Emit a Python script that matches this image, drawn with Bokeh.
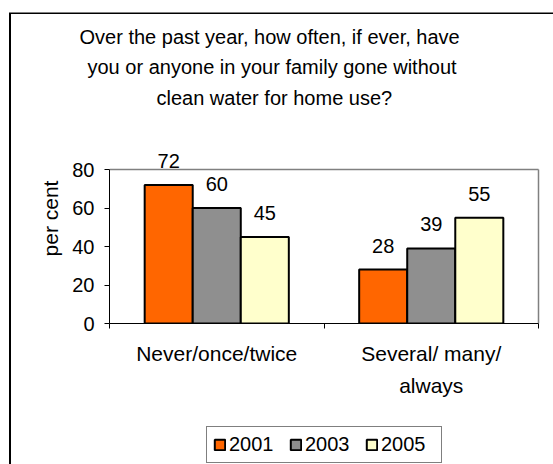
from bokeh.plotting import figure
from bokeh.layouts import column
from bokeh.models import (Range1d, FixedTicker, ColumnDataSource, LabelSet, Title,
                          Legend, LegendItem)
from bokeh.core.properties import value
from bokeh.embed import file_html
from bokeh.resources import INLINE

FONT = "Liberation Sans"

# ---- data ----
categories = ["Never/once/twice", "Several/ many/\nalways"]
years = ["2001", "2003", "2005"]
values_2001 = [72, 28]
values_2003 = [60, 39]
values_2005 = [45, 55]
y_ticks = [0, 20, 40, 60, 80]
title_lines = [
    "Over the past year, how often, if ever, have",
    "you or anyone in your family gone without",
    "clean water for home use?",
]
y_label = "per cent"

series = [values_2001, values_2003, values_2005]
colors = ["#FF6600", "#8F8F8F", "#FFFFCC"]

y_max = 80
ncat = len(categories)
# frame taller than the value axis so the value labels above bars are not clipped
y_top = y_max * 210 / 154.0

MAIN_H = 420
p = figure(width=553, height=MAIN_H,
           x_range=Range1d(0, ncat + 3 / 214.5), y_range=Range1d(0, y_top),
           output_backend="svg", toolbar_location=None,
           min_border_left=109, min_border_right=12,
           min_border_top=113, min_border_bottom=MAIN_H - 323,
           background_fill_color="white", border_fill_color=None,
           outline_line_color=None,
           styles={"box-shadow": "inset 9px 0 0 0 #ffffff, inset 0 12.5px 0 0 #ffffff, "
                                 "inset 11px 0 0 0 #000000, inset 0 14px 0 0 #000000"})

p.xgrid.grid_line_color = None
p.ygrid.grid_line_color = None

# plot-area border (top and right, gray)
p.segment(x0=[0, ncat], y0=[y_max, 0], x1=[ncat, ncat], y1=[y_max, y_max],
          line_color="#808080", line_width=1.5)

bar_w = 0.224
for j, (yr, vals, col) in enumerate(zip(years, series, colors)):
    xs = [i + 0.5 + (j - 1) * bar_w for i in range(ncat)]
    src = ColumnDataSource(dict(x=xs, top=vals, label=[str(v) for v in vals]))
    p.vbar(x="x", top="top", bottom=0, width=bar_w, source=src,
           fill_color=col, line_color="black", line_width=2)
    p.add_layout(LabelSet(x="x", y="top", text="label", source=src,
                          y_offset=17, text_align="center",
                          text_baseline="alphabetic",
                          text_font=value(FONT), text_font_size=value("20px"),
                          text_color="black"))

# y axis
p.yaxis.ticker = FixedTicker(ticks=y_ticks)
p.yaxis.bounds = (0, y_max)
p.yaxis.axis_label = y_label
p.yaxis.axis_label_text_font = FONT
p.yaxis.axis_label_text_font_size = "21px"
p.yaxis.axis_label_text_font_style = "normal"
p.yaxis.axis_label_text_color = "black"
p.yaxis.axis_label_standoff = 7
p.yaxis.major_label_text_font = FONT
p.yaxis.major_label_text_font_size = "20px"
p.yaxis.major_label_text_color = "black"
p.yaxis.major_label_standoff = 10
p.yaxis.major_tick_out = 5
p.yaxis.major_tick_in = 0
p.yaxis.minor_tick_line_color = None
p.yaxis.axis_line_color = "black"
p.yaxis.major_tick_line_color = "black"

# x axis: labels at category centres, tick marks at category boundaries
p.xaxis.ticker = FixedTicker(ticks=[i + 0.5 for i in range(ncat)],
                             minor_ticks=list(range(ncat + 1)))
p.xaxis.bounds = (0, ncat)
p.xaxis.major_label_overrides = {i + 0.5: c for i, c in enumerate(categories)}
p.xaxis.major_label_text_font = FONT
p.xaxis.major_label_text_font_size = "21px"
p.xaxis.major_label_text_color = "black"
p.xaxis.major_label_text_line_height = 1.4
p.xaxis.major_label_standoff = 13
p.xaxis.major_tick_out = 0
p.xaxis.major_tick_in = 0
p.xaxis.minor_tick_out = 5
p.xaxis.minor_tick_in = 0
p.xaxis.minor_tick_line_color = "black"
p.xaxis.axis_line_color = "black"

# title: three lines, stacked above the frame (nearest line added first)
for line, off, so in reversed(list(zip(title_lines, [-30, -22, 47], [6, 6, 9]))):
    p.add_layout(Title(text=line, align="left", offset=off, standoff=so,
                       text_font=FONT, text_font_size="20px",
                       text_font_style="normal", text_color="black"), "above")

# ---- legend strip below the chart (frame is aligned with the chart's frame) ----
LEG_H = 464 - MAIN_H
pl = figure(width=553, height=LEG_H, x_range=Range1d(0, 1), y_range=Range1d(0, 1),
            output_backend="svg", toolbar_location=None,
            x_axis_type=None, y_axis_type=None, min_border=0,
            background_fill_color=None, border_fill_color=None,
            outline_line_color=None,
            styles={"box-shadow": "inset 9px 0 0 0 #ffffff, inset 11px 0 0 0 #000000"})
pl.xgrid.grid_line_color = None
pl.ygrid.grid_line_color = None

items = []
for yr, col in zip(years, colors):
    # proxy bar with no drawable position, only to give the legend its swatch
    r = pl.vbar(x=[float("nan")], top=[float("nan")], width=0.1, fill_color=col,
                line_color="black", line_width=2)
    items.append(LegendItem(label=yr, renderers=[r]))

legend = Legend(items=items, location=(97, 1), orientation="horizontal",
                border_line_color="black", border_line_width=1,
                background_fill_color="white", background_fill_alpha=1,
                padding=6, spacing=6, label_standoff=3, margin=0,
                label_width=54, glyph_width=13, glyph_height=13,
                label_text_font=FONT, label_text_font_size="20px",
                label_text_color="black")
pl.add_layout(legend)

layout = column(p, pl, spacing=0)
open("out.html", "w").write(file_html(layout, INLINE))
